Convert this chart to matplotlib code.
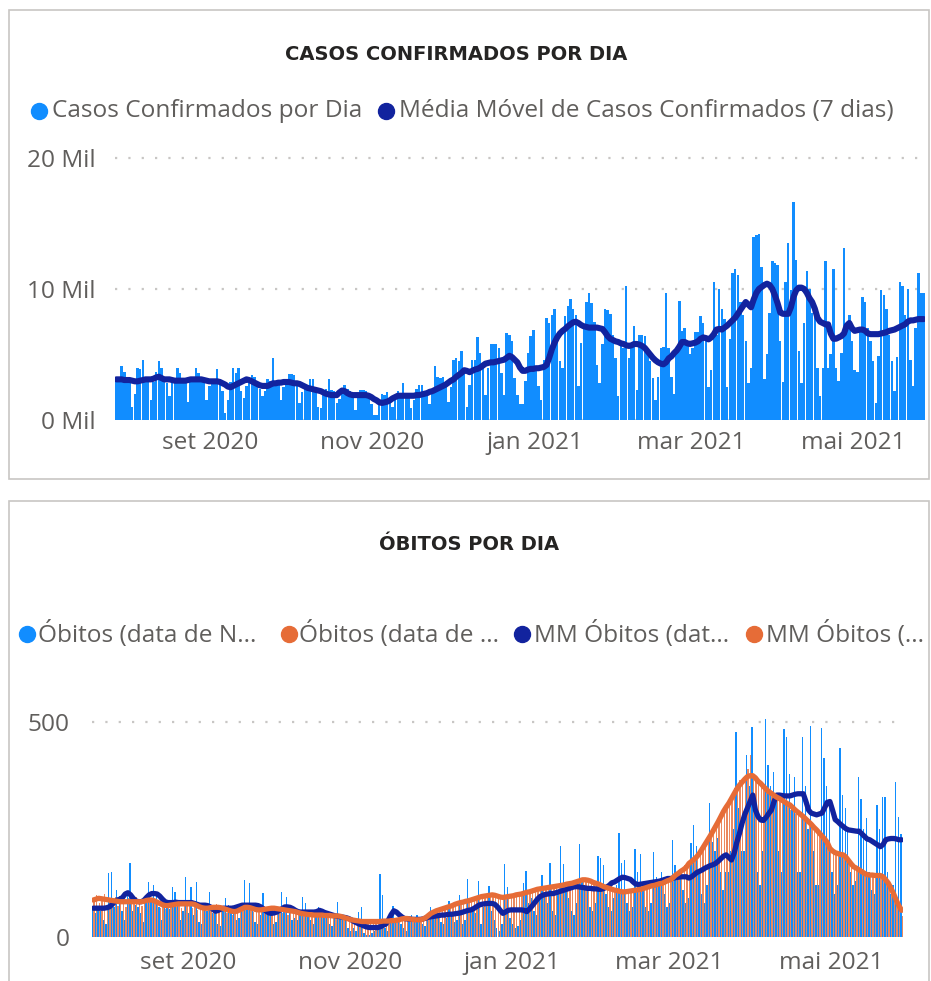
import numpy as np
import pandas as pd
import matplotlib
matplotlib.use("Agg")
import matplotlib.pyplot as plt
from matplotlib.lines import Line2D
from matplotlib.patches import Rectangle

plt.rcParams['font.family'] = ['Open Sans', 'DejaVu Sans']

# ---------------- DATA ----------------
start_date = "2020-07-27"

# Casos confirmados por dia (milhares), semana a semana
cases_mil = [
    3.1, 3.1, 4.1, 3.7, 2.8, 2.8, 1.0,
    2.0, 4.0, 3.9, 4.6, 3.3, 2.9, 1.5,
    2.9, 3.7, 4.5, 4.0, 3.3, 2.8, 1.8,
    2.9, 3.1, 4.0, 3.6, 3.0, 2.9, 1.4,
    2.9, 3.0, 4.0, 3.6, 3.1, 2.8, 1.5,
    2.6, 3.0, 3.0, 3.9, 3.1, 2.2, 0.5,
    1.5, 2.9, 4.0, 3.6, 4.0, 2.2, 1.7,
    2.6, 2.8, 3.4, 3.3, 2.8, 2.4, 1.8,
    2.2, 3.1, 3.0, 4.7, 2.9, 2.7, 1.5,
    2.5, 2.9, 3.5, 3.5, 3.4, 2.6, 1.3,
    2.1, 2.5, 2.7, 3.1, 3.1, 2.4, 1.0,
    0.9, 2.0, 2.4, 3.1, 2.3, 2.2, 1.3,
    1.6, 2.2, 2.7, 2.4, 2.2, 2.0, 0.8,
    1.8, 2.3, 2.3, 2.2, 2.0, 1.2, 0.4,
    0.4, 1.4, 2.0, 1.9, 2.1, 1.3, 1.0,
    1.5, 2.2, 1.9, 2.8, 2.0, 1.7, 0.9,
    1.5, 2.4, 2.7, 2.7, 2.2, 1.9, 1.2,
    2.0, 4.1, 3.3, 3.2, 3.3, 2.6, 1.4,
    2.5, 4.6, 4.7, 4.5, 5.3, 3.5, 1.0,
    2.7, 4.6, 4.6, 6.3, 5.1, 4.0, 1.9,
    4.0, 5.8, 5.8, 5.8, 5.5, 3.6, 1.9,
    6.6, 6.5, 6.0, 3.2, 1.9, 1.2, 1.2,
    3.0, 5.1, 6.4, 6.9, 4.0, 2.6, 1.5,
    4.6, 7.8, 7.4, 8.0, 8.5, 6.0, 4.5,
    4.0, 7.9, 8.7, 9.2, 8.5, 8.0, 2.6,
    5.9, 7.0, 9.0, 9.7, 8.9, 7.5, 4.2,
    2.8, 5.8, 8.5, 8.4, 8.1, 6.5, 4.7,
    1.8, 5.8, 5.5, 10.2, 4.7, 5.5, 7.2,
    2.3, 6.5, 6.5, 6.4, 5.1, 4.5, 3.2,
    1.5, 3.3, 5.5, 5.6, 9.7, 5.5, 3.3,
    2.0, 5.4, 9.1, 6.8, 7.0, 6.0, 5.0,
    5.5, 6.7, 6.7, 7.9, 7.4, 6.0, 2.5,
    3.8, 10.5, 6.5, 10.0, 8.5, 7.7, 2.5,
    6.2, 11.2, 11.5, 11.1, 9.0, 8.0, 6.0,
    2.8, 4.0, 14.0, 14.1, 14.2, 11.7, 3.1,
    5.0, 8.2, 12.1, 12.0, 11.8, 6.0, 2.9,
    10.5, 13.5, 9.9, 16.6, 12.2, 5.3, 2.8,
    7.4, 11.4, 10.0, 8.2, 8.0, 4.0, 1.8,
    4.0, 12.1, 4.0, 5.0, 11.5, 4.0, 3.0,
    5.1, 13.1, 7.0, 8.0, 6.0, 3.8, 3.7,
    7.0, 9.4, 9.0, 7.0, 6.0, 4.5, 1.3,
    4.9, 9.9, 9.5, 8.5, 6.5, 4.5, 2.2,
    4.8, 10.5, 10.2, 8.0, 10.0, 4.6, 2.6,
    7.0, 11.2, 9.7, 9.7,
]

# Média móvel de casos (7 dias), milhares
ma_cases_mil = [
    3.1, 3.1, 3.1, 3.05, 3.05, 3.05, 3.0,
    2.95, 2.95, 3.0, 3.05, 3.1, 3.1, 3.1,
    3.15, 3.25, 3.3, 3.2, 3.1, 3.1, 3.1,
    3.05, 3.0, 3.0, 3.0, 3.0, 3.0, 3.05,
    3.1, 3.1, 3.1, 3.1, 3.1, 3.05, 3.0,
    2.95, 2.95, 2.95, 2.95, 2.9, 2.8, 2.7,
    2.55, 2.5, 2.6, 2.7, 2.8, 2.9, 3.0,
    3.1, 3.05, 2.95, 2.85, 2.75, 2.65, 2.6,
    2.6, 2.6, 2.7, 2.8, 2.8, 2.85, 2.85,
    2.9, 2.9, 2.9, 2.85, 2.8, 2.8, 2.75,
    2.65, 2.55, 2.45, 2.4, 2.35, 2.3, 2.25,
    2.2, 2.1, 2.0, 1.95, 1.9, 1.9, 1.9,
    2.1, 2.25, 2.2, 2.05, 1.95, 1.9, 1.9,
    1.9, 1.9, 1.9, 1.9, 1.85, 1.75, 1.6,
    1.5, 1.35, 1.3, 1.35, 1.4, 1.5, 1.65,
    1.75, 1.85, 1.85, 1.85, 1.85, 1.85, 1.85,
    1.85, 1.9, 1.9, 1.95, 2.0, 2.05, 2.15,
    2.2, 2.3, 2.4, 2.5, 2.6, 2.7, 2.85,
    3.0, 3.1, 3.3, 3.45, 3.6, 3.8, 3.75,
    3.65, 3.75, 3.85, 3.9, 4.0, 4.15, 4.3,
    4.35, 4.4, 4.4, 4.45, 4.5, 4.55, 4.6,
    4.75, 4.9, 4.8, 4.6, 4.4, 4.0, 3.75,
    3.75, 3.85, 3.9, 3.9, 3.95, 3.95, 4.0,
    4.05, 4.2, 4.75, 5.4, 5.9, 6.3, 6.6,
    6.8, 6.95, 7.15, 7.3, 7.45, 7.5, 7.4,
    7.25, 7.15, 7.1, 7.05, 7.05, 7.05, 7.05,
    7.0, 6.95, 6.7, 6.4, 6.2, 6.1, 6.0,
    5.95, 5.85, 5.8, 5.7, 5.65, 5.7, 5.8,
    5.8, 5.75, 5.65, 5.5, 5.25, 5.0, 4.75,
    4.55, 4.4, 4.3, 4.25, 4.4, 4.7, 4.85,
    5.1, 5.3, 5.6, 5.95, 5.95, 5.85, 5.8,
    5.85, 5.9, 6.0, 6.2, 6.3, 6.25, 6.15,
    6.3, 6.55, 6.9, 6.95, 6.9, 7.05, 7.2,
    7.4, 7.6, 7.8, 8.1, 8.4, 8.7, 9.0,
    8.8, 8.6, 9.2, 9.7, 10.0, 10.15, 10.3,
    10.4, 10.3, 10.0, 9.5, 8.9, 8.2, 8.1,
    8.1, 8.1, 8.6, 9.4, 9.9, 10.1, 10.1,
    10.0, 9.7, 9.3, 9.0, 8.5, 7.8, 7.5,
    7.4, 7.3, 7.3, 6.6, 6.2, 6.2, 6.3,
    6.4, 6.6, 7.2, 7.4, 7.0, 6.8, 6.85,
    6.9, 6.9, 6.8, 6.6, 6.55, 6.55, 6.55,
    6.55, 6.6, 6.65, 6.7, 6.8, 6.85, 6.9,
    7.0, 7.1, 7.2, 7.3, 7.5, 7.6, 7.6,
    7.65, 7.7, 7.7, 7.7,
]

# Óbitos por data de notificação
deaths_notif = [
    70, 55, 65, 60, 40, 30, 148,
    152, 70, 110, 95, 60, 40, 100,
    171, 60, 75, 70, 55, 35, 80,
    129, 90, 121, 95, 70, 40, 80,
    70, 65, 117, 104, 75, 40, 60,
    140, 55, 117, 50, 129, 35, 30,
    65, 60, 105, 55, 60, 30, 25,
    60, 90, 75, 70, 65, 40, 45,
    65, 133, 70, 125, 60, 35, 30,
    50, 102, 60, 55, 50, 30, 35,
    60, 105, 70, 94, 65, 40, 45,
    40, 60, 94, 78, 55, 40, 30,
    50, 69, 65, 55, 50, 30, 25,
    45, 82, 50, 40, 51, 20, 15,
    20, 15, 59, 69, 10, 5, 5,
    10, 15, 20, 146, 98, 20, 15,
    50, 73, 45, 40, 30, 20, 15,
    40, 51, 45, 50, 45, 30, 25,
    40, 69, 55, 50, 45, 35, 30,
    45, 84, 55, 35, 40, 98, 30,
    40, 135, 60, 65, 55, 130, 30,
    70, 75, 119, 60, 40, 20, 15,
    30, 169, 117, 45, 30, 20, 25,
    40, 125, 154, 80, 90, 60, 50,
    100, 144, 100, 80, 171, 60, 50,
    100, 212, 170, 110, 90, 60, 50,
    80, 216, 130, 120, 110, 70, 60,
    80, 188, 183, 167, 100, 70, 60,
    90, 120, 241, 171, 180, 80, 60,
    70, 205, 150, 192, 110, 70, 60,
    80, 198, 140, 130, 150, 100, 70,
    80, 226, 167, 140, 150, 110, 80,
    90, 218, 260, 212, 150, 100, 80,
    120, 312, 220, 200, 230, 150, 110,
    150, 150, 200, 250, 477, 300, 200,
    200, 423, 350, 489, 300, 150, 120,
    200, 506, 400, 350, 384, 330, 200,
    150, 483, 466, 380, 300, 373, 150,
    150, 466, 350, 250, 491, 200, 120,
    120, 485, 416, 350, 300, 150, 100,
    120, 439, 330, 300, 250, 150, 120,
    130, 371, 320, 250, 276, 150, 110,
    100, 307, 250, 326, 326, 150, 100,
    120, 361, 280, 240,
]

# Óbitos por data de óbito
deaths_obito = [
    85, 98, 80, 92, 100, 75, 88,
    78, 92, 72, 86, 80, 70, 90,
    88, 76, 92, 80, 72, 86, 78,
    94, 85, 80, 74, 68, 80, 66,
    72, 82, 78, 70, 86, 68, 80,
    82, 74, 68, 80, 62, 72, 66,
    62, 72, 74, 58, 76, 68, 64,
    64, 56, 66, 52, 60, 58, 64,
    72, 74, 62, 70, 58, 66, 60,
    64, 72, 60, 70, 62, 72, 66,
    62, 56, 64, 52, 62, 56, 58,
    56, 50, 60, 48, 56, 54, 50,
    50, 55, 46, 56, 50, 45, 53,
    48, 52, 44, 46, 40, 42, 36,
    40, 34, 38, 32, 36, 40, 34,
    36, 32, 40, 36, 34, 40, 36,
    38, 42, 40, 46, 38, 46, 42,
    44, 36, 40, 44, 38, 42, 46,
    48, 56, 58, 62, 60, 66, 68,
    66, 74, 70, 76, 80, 74, 82,
    80, 86, 90, 84, 92, 90, 96,
    94, 100, 102, 94, 98, 90, 96,
    88, 96, 90, 98, 100, 94, 102,
    98, 106, 108, 100, 110, 104, 112,
    108, 114, 116, 120, 112, 118, 122,
    116, 122, 126, 120, 128, 124, 130,
    128, 134, 138, 132, 130, 126, 124,
    126, 118, 120, 112, 114, 110, 108,
    112, 104, 106, 100, 106, 108, 110,
    106, 112, 110, 116, 114, 118, 120,
    118, 124, 122, 128, 126, 132, 134,
    132, 142, 146, 156, 154, 168, 166,
    170, 182, 180, 194, 198, 214, 216,
    224, 244, 248, 266, 270, 290, 292,
    300, 322, 326, 346, 348, 366, 362,
    368, 390, 423, 380, 366, 356, 350,
    348, 336, 338, 326, 330, 318, 320,
    316, 308, 310, 296, 298, 286, 288,
    280, 278, 264, 266, 254, 252, 244,
    244, 228, 226, 210, 208, 196, 200,
    198, 188, 190, 178, 176, 162, 164,
    160, 152, 156, 146, 148, 140, 146,
    146, 138, 144, 134, 130, 120, 116,
    104, 88, 70, 48,
]

# MM óbitos (data de notificação)
ma_notif = [
    67, 67, 67, 67, 67, 68, 70,
    75, 82, 86, 88, 92, 100, 103,
    98, 90, 84, 82, 82, 85, 92,
    98, 101, 101, 100, 95, 88, 82,
    80, 80, 80, 81, 80, 80, 80,
    80, 80, 80, 78, 76, 74, 74,
    74, 73, 70, 64, 60, 62, 65,
    67, 67, 67, 67, 68, 70, 72,
    74, 74, 74, 74, 74, 74, 73,
    70, 65, 60, 56, 55, 56, 58,
    62, 66, 70, 70, 69, 66, 62,
    59, 58, 58, 58, 58, 58, 58,
    59, 62, 60, 57, 55, 53, 51,
    49, 48, 47, 46, 45, 43, 40,
    36, 33, 30, 28, 25, 23, 22,
    22, 22, 22, 24, 27, 30, 40,
    52, 61, 58, 52, 47, 43, 42,
    42, 41, 41, 41, 41, 42, 44,
    46, 47, 48, 49, 50, 51, 51,
    52, 53, 53, 54, 55, 56, 58,
    60, 62, 63, 66, 70, 74, 76,
    77, 78, 78, 78, 76, 70, 62,
    55, 58, 62, 63, 63, 63, 63,
    63, 62, 59, 65, 72, 80, 88,
    94, 97, 99, 100, 101, 101, 103,
    105, 107, 109, 111, 113, 115, 117,
    117, 116, 115, 114, 113, 113, 112,
    112, 111, 111, 113, 116, 120, 126,
    128, 132, 136, 139, 138, 136, 134,
    128, 123, 122, 123, 124, 125, 126,
    127, 128, 129, 130, 132, 134, 136,
    136, 137, 138, 139, 140, 140, 140,
    137, 140, 145, 150, 153, 156, 160,
    163, 166, 168, 171, 176, 182, 188,
    191, 185, 179, 195, 220, 241, 265,
    285, 300, 315, 330, 295, 280, 272,
    271, 278, 287, 295, 315, 330, 330,
    329, 328, 328, 328, 330, 332, 333,
    333, 333, 315, 295, 288, 286, 284,
    286, 288, 300, 313, 315, 295, 273,
    268, 262, 257, 252, 249, 248, 247,
    246, 246, 240, 234, 228, 226, 222,
    218, 214, 210, 215, 226, 228, 229,
    229, 228, 226, 226,
]

# MM óbitos (data de óbito)
ma_obito = [
    86, 88, 90, 89, 88, 87, 86,
    85, 84, 83, 82, 82, 82, 82,
    82, 82, 82, 82, 82, 83, 85,
    86, 86, 84, 81, 78, 75, 73,
    73, 74, 75, 76, 77, 77, 77,
    77, 77, 77, 76, 73, 70, 68,
    67, 67, 68, 69, 69, 69, 68,
    66, 64, 62, 60, 59, 60, 63,
    66, 69, 69, 68, 66, 64, 63,
    63, 64, 65, 66, 67, 67, 66,
    65, 64, 63, 62, 61, 60, 59,
    57, 55, 54, 53, 52, 52, 51,
    51, 51, 51, 50, 50, 50, 49,
    49, 49, 48, 46, 44, 42, 40,
    39, 38, 37, 36, 36, 36, 36,
    36, 36, 36, 36, 37, 37, 37,
    38, 38, 39, 40, 42, 43, 43,
    42, 41, 40, 40, 40, 42, 45,
    50, 55, 58, 61, 63, 65, 67,
    69, 71, 73, 76, 78, 80, 81,
    83, 84, 86, 88, 90, 92, 94,
    95, 96, 97, 98, 97, 95, 93,
    92, 93, 94, 95, 96, 98, 99,
    100, 102, 104, 105, 107, 109, 111,
    112, 113, 114, 115, 116, 117, 118,
    119, 120, 121, 123, 124, 125, 127,
    129, 131, 133, 133, 132, 130, 127,
    125, 123, 120, 117, 115, 113, 111,
    109, 108, 106, 105, 105, 106, 107,
    108, 109, 110, 111, 113, 115, 117,
    119, 120, 122, 124, 125, 128, 131,
    133, 138, 144, 148, 153, 157, 162,
    171, 176, 181, 187, 195, 205, 215,
    225, 235, 246, 257, 268, 280, 292,
    302, 311, 322, 333, 344, 353, 360,
    367, 373, 375, 375, 370, 362, 357,
    350, 344, 338, 334, 329, 325, 322,
    318, 314, 310, 307, 301, 295, 290,
    285, 280, 274, 268, 262, 255, 249,
    242, 235, 228, 220, 206, 200, 196,
    194, 192, 191, 186, 178, 170, 163,
    160, 156, 152, 148, 145, 144, 144,
    143, 143, 143, 140, 133, 125, 113,
    100, 85, 72, 62,
]

month_ticks = ["2020-09-01", "2020-11-01", "2021-01-01", "2021-03-01", "2021-05-01"]
month_labels = ["set 2020", "nov 2020", "jan 2021", "mar 2021", "mai 2021"]

title_top = "CASOS CONFIRMADOS POR DIA"
title_bottom = "ÓBITOS POR DIA"
legend_top = ["Casos Confirmados por Dia", "Média Móvel de Casos Confirmados (7 dias)"]
legend_bottom = ["Óbitos (data de N...", "Óbitos (data de ...", "MM Óbitos (dat...", "MM Óbitos (..."]

for arr in (cases_mil, ma_cases_mil, deaths_notif, deaths_obito, ma_notif, ma_obito):
    assert len(arr) == len(cases_mil), len(arr)

# ---------------- STYLE ----------------
C_BLUE = "#118DFF"
C_NAVY = "#12239E"
C_ORANGE = "#E66C37"
C_TEXT = "#605E5C"
C_TITLE = "#252423"
C_GRID = "#C8C6C4"
FS = 17.6

W, H = 931, 981
fig = plt.figure(figsize=(W / 100, H / 100), dpi=100)


def rect(l, t, r, b):
    return [l / W, 1 - b / H, (r - l) / W, (b - t) / H]


def fx(px):
    return px / W


def fy(py):
    return 1 - py / H


# panel borders
for (l, t, r, b) in [(9, 10, 929, 479), (9, 501, 929, 1000)]:
    fig.add_artist(Rectangle((l / W, 1 - b / H), (r - l) / W, (b - t) / H,
                             transform=fig.transFigure, fill=False,
                             ec="#C8C6C4", lw=1.2))

dates = pd.date_range(start_date, periods=len(cases_mil), freq="D")
centers = dates + pd.Timedelta(hours=12)
xmin = dates[0]
xmax = dates[-1] + pd.Timedelta(days=1)
ticks = pd.to_datetime(month_ticks)


def style_axis(ax, ypad, xpad):
    for s in ax.spines.values():
        s.set_visible(False)
    ax.tick_params(axis="both", length=0, labelsize=FS, colors=C_TEXT)
    ax.tick_params(axis="y", pad=ypad)
    ax.tick_params(axis="x", pad=xpad)
    ax.yaxis.grid(True, linestyle=(0, (1, 5)), color=C_GRID, lw=1.6)
    ax.set_axisbelow(True)
    ax.set_xlim(xmin, xmax)
    ax.set_xticks(ticks)
    ax.set_xticklabels(month_labels)


# ---------------- TOP CHART ----------------
ax1 = fig.add_axes(rect(115, 150, 925, 420))
cases = np.array(cases_mil) * 1000
ma_cases = np.array(ma_cases_mil) * 1000
ax1.bar(centers, cases, width=0.93, color=C_BLUE, zorder=2, linewidth=0)
ax1.plot(centers, ma_cases, color=C_NAVY, lw=4.4, solid_capstyle="round",
         solid_joinstyle="round", zorder=3)
ax1.set_ylim(0, 20600)
ax1.set_yticks([0, 10000, 20000])
ax1.set_yticklabels([f"{v // 1000} Mil" for v in (0, 10000, 20000)])
style_axis(ax1, 14, 8)

fig.text(fx(456), fy(55), title_top, ha="center", va="center", fontsize=14,
         fontweight="bold", color=C_TITLE, family="DejaVu Sans")

for mx, tx, col, lab in [(39, 52, C_BLUE, legend_top[0]), (386, 399, C_NAVY, legend_top[1])]:
    fig.add_artist(Line2D([fx(mx)], [fy(111)], marker="o", markersize=11.5,
                          color=col, transform=fig.transFigure))
    fig.text(fx(tx), fy(111), lab, ha="left", va="center", fontsize=FS, color=C_TEXT)

# ---------------- BOTTOM CHART ----------------
ax2 = fig.add_axes(rect(92, 700, 903, 937))
ax2.bar(dates + pd.Timedelta(hours=6), deaths_notif, width=0.5, color=C_BLUE,
        zorder=2, linewidth=0)
ax2.bar(dates + pd.Timedelta(hours=18), deaths_obito, width=0.5, color=C_ORANGE,
        alpha=0.8, zorder=2, linewidth=0)
ax2.plot(centers, ma_notif, color=C_NAVY, lw=3.8, solid_capstyle="round",
         solid_joinstyle="round", zorder=3)
ax2.plot(centers, ma_obito, color=C_ORANGE, lw=3.8, solid_capstyle="round",
         solid_joinstyle="round", zorder=4)
ax2.set_ylim(0, 551)
ax2.set_yticks([0, 500])
ax2.set_yticklabels(["0", "500"])
style_axis(ax2, 16, 10)

fig.text(fx(469), fy(545), title_bottom, ha="center", va="center", fontsize=14,
         fontweight="bold", color=C_TITLE, family="DejaVu Sans")

for mx, tx, col, lab in [(27, 38, C_BLUE, legend_bottom[0]),
                         (289, 299, C_ORANGE, legend_bottom[1]),
                         (522, 534, C_NAVY, legend_bottom[2]),
                         (754, 766, C_ORANGE, legend_bottom[3])]:
    fig.add_artist(Line2D([fx(mx)], [fy(634)], marker="o", markersize=11.5,
                          color=col, transform=fig.transFigure))
    fig.text(fx(tx), fy(634), lab, ha="left", va="center", fontsize=FS, color=C_TEXT)

fig.savefig("out.png", dpi=100)
